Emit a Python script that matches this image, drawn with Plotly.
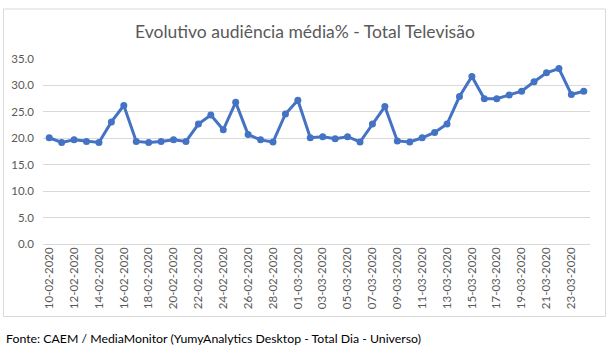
import plotly.graph_objects as go

dates = [
    "10-02-2020", "11-02-2020", "12-02-2020", "13-02-2020", "14-02-2020", "15-02-2020",
    "16-02-2020", "17-02-2020", "18-02-2020", "19-02-2020", "20-02-2020", "21-02-2020",
    "22-02-2020", "23-02-2020", "24-02-2020", "25-02-2020", "26-02-2020", "27-02-2020",
    "28-02-2020", "29-02-2020", "01-03-2020", "02-03-2020", "03-03-2020", "04-03-2020",
    "05-03-2020", "06-03-2020", "07-03-2020", "08-03-2020", "09-03-2020", "10-03-2020",
    "11-03-2020", "12-03-2020", "13-03-2020", "14-03-2020", "15-03-2020", "16-03-2020",
    "17-03-2020", "18-03-2020", "19-03-2020", "20-03-2020", "21-03-2020", "22-03-2020",
    "23-03-2020", "24-03-2020",
]
audiencia = [
    20.1, 19.2, 19.7, 19.4, 19.2, 23.1, 26.2, 19.4, 19.2, 19.4, 19.7, 19.4,
    22.7, 24.4, 21.6, 26.8, 20.7, 19.7, 19.3, 24.6, 27.2, 20.1, 20.3, 19.9,
    20.3, 19.3, 22.7, 26.0, 19.5, 19.3, 20.1, 21.1, 22.7, 27.9, 31.7, 27.5,
    27.5, 28.2, 28.9, 30.7, 32.4, 33.2, 28.3, 28.9,
]
tick_labels = dates[::2]
y_ticks = [0, 5, 10, 15, 20, 25, 30, 35]

title_text = "Evolutivo audiência média% - Total Televisão"
source_text = "Fonte: CAEM / MediaMonitor (YumyAnalytics Desktop - Total Dia - Universo)"

W, H = 609, 357
L, R, T, B = 43, 19, 59, 113
pw, ph = W - L - R, H - T - B

def px_x(x):
    return (x - L) / pw

def px_y(y):
    return (H - B - y) / ph

fig = go.Figure()
fig.add_trace(go.Scatter(
    x=dates, y=audiencia, mode="lines+markers",
    line=dict(color="#4472C4", width=3),
    marker=dict(color="#4472C4", size=7),
    hoverinfo="x+y",
))

fig.update_layout(
    width=W, height=H,
    margin=dict(l=L, r=R, t=T, b=B),
    paper_bgcolor="white", plot_bgcolor="white",
    showlegend=False,
    font=dict(family="Lato, Open Sans, sans-serif", color="#595959"),
    xaxis=dict(
        type="category", range=[-0.5, len(dates) - 0.5],
        tickmode="array", tickvals=tick_labels, ticktext=tick_labels,
        tickangle=-90, tickfont=dict(size=11.5, color="#595959"),
        showgrid=False, showline=False, zeroline=False, ticks="",
        fixedrange=True,
    ),
    yaxis=dict(
        range=[0, 35], tickvals=y_ticks, tickformat=".1f",
        tickfont=dict(size=11.5, color="#595959"),
        showgrid=True, gridcolor="#D9D9D9", gridwidth=1,
        zeroline=True, zerolinecolor="#D9D9D9", zerolinewidth=1,
        showline=False, ticks="", ticklabelstandoff=8,
    ),
    annotations=[
        dict(text=title_text, xref="paper", yref="paper",
             x=px_x(305), y=px_y(31), xanchor="center", yanchor="middle",
             showarrow=False, font=dict(size=17.5, color="#595959")),
        dict(text=source_text, xref="paper", yref="paper",
             x=px_x(4), y=px_y(338), xanchor="left", yanchor="middle",
             showarrow=False, font=dict(size=12.3, color="#000000")),
    ],
    shapes=[
        dict(type="rect", xref="paper", yref="paper",
             x0=px_x(3.5), x1=px_x(605.5), y0=px_y(316.5), y1=px_y(9),
             line=dict(color="#D9D9D9", width=1), fillcolor="rgba(0,0,0,0)",
             layer="below"),
    ],
)

fig.write_html("out.html", config={"displayModeBar": False},
               post_script="document.body.style.margin='0px';")
